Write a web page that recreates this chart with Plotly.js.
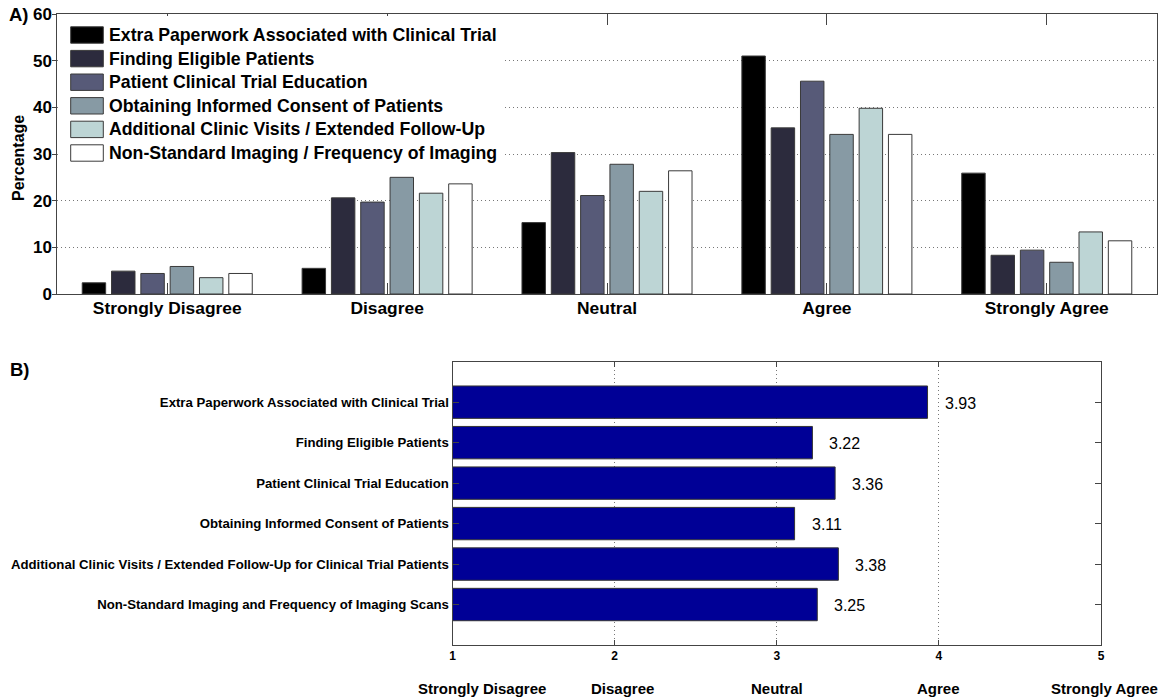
<!DOCTYPE html>
<html>
<head>
<meta charset="utf-8">
<script src="https://cdn.plot.ly/plotly-3.0.1.min.js"></script>
<style>
html,body{margin:0;padding:0;background:#fff;}
#chart{width:1160px;height:698px;}
</style>
</head>
<body>
<div id="chart"></div>
<script>
// ---------- DATA ----------
const categories = ['Strongly Disagree', 'Disagree', 'Neutral', 'Agree', 'Strongly Agree'];
const seriesNames = [
  'Extra Paperwork Associated with Clinical Trial',
  'Finding Eligible Patients',
  'Patient Clinical Trial Education',
  'Obtaining Informed Consent of Patients',
  'Additional Clinic Visits / Extended Follow-Up',
  'Non-Standard Imaging / Frequency of Imaging'
];
const extraPaperwork   = [2.4, 5.5, 15.3, 51.0, 25.9];
const findingEligible  = [4.9, 20.6, 30.3, 35.6, 8.3];
const patientEducation = [4.4, 19.7, 21.1, 45.6, 9.4];
const informedConsent  = [5.9, 25.0, 27.8, 34.2, 6.8];
const clinicVisits     = [3.5, 21.6, 22.0, 39.8, 13.3];
const imagingFrequency = [4.4, 23.6, 26.4, 34.2, 11.4];
const seriesValues = [extraPaperwork, findingEligible, patientEducation, informedConsent, clinicVisits, imagingFrequency];

const barriers = [
  'Extra Paperwork Associated with Clinical Trial',
  'Finding Eligible Patients',
  'Patient Clinical Trial Education',
  'Obtaining Informed Consent of Patients',
  'Additional Clinic Visits / Extended Follow-Up for Clinical Trial Patients',
  'Non-Standard Imaging and Frequency of Imaging Scans'
];
const meanScores = [3.93, 3.22, 3.36, 3.11, 3.38, 3.25];
const scaleTicks = [1, 2, 3, 4, 5];
const scaleLabels = ['Strongly Disagree', 'Disagree', 'Neutral', 'Agree', 'Strongly Agree'];

// ---------- STYLE ----------
const seriesColors = ['#000000', '#2c2b3d', '#575a78', '#879aa4', '#bdd5d5', '#ffffff'];
const FONT = 'Liberation Sans, Arial, sans-serif';
const NARROW = 'Liberation Sans Narrow, Arial Narrow, Liberation Sans, sans-serif';
const W = 1160, H = 698;
const px = v => v / W;
const py = v => 1 - v / H;
const axisCol = '#444444';
const gridDash = '1px,3px';

// bottom x-axis pixel geometry (for placing scale labels in paper coords)
const X2_LEFT = 452.5, X2_RIGHT = 1101;
const scaleToPx = v => X2_LEFT + (v - 1) * (X2_RIGHT - X2_LEFT) / 4;
const scaleLabelPos = [1.18, 2.05, 3.0, 4.0, 5.02];

const traces = [];
seriesValues.forEach((vals, i) => {
  traces.push({
    type: 'bar', x: categories, y: vals, name: seriesNames[i],
    xaxis: 'x', yaxis: 'y',
    marker: {color: seriesColors[i], line: {color: '#3a3a3a', width: 1}},
    showlegend: false, hoverinfo: 'x+y'
  });
});
traces.push({
  type: 'bar', orientation: 'h', x: meanScores.map(v => v - 1), base: 1, y: barriers, width: 0.8,
  xaxis: 'x2', yaxis: 'y2',
  customdata: meanScores, hovertemplate: '%{customdata}<extra></extra>',
  marker: {color: '#000096', line: {color: '#333333', width: 1}},
  showlegend: false
});

const shapes = [];
const annotations = [];

// legend (custom): white background
shapes.push({type: 'rect', xref: 'paper', yref: 'paper', layer: 'above',
  x0: px(59), x1: px(504), y0: py(170), y1: py(16), fillcolor: '#ffffff', line: {width: 0}});
seriesNames.forEach((n, i) => {
  const cy = 35 + i * 23.6;
  shapes.push({type: 'rect', xref: 'paper', yref: 'paper', layer: 'above',
    x0: px(70.7), x1: px(103.3), y0: py(cy + 8.2), y1: py(cy - 8.2),
    fillcolor: seriesColors[i], line: {color: '#3a3a3a', width: 1}});
  annotations.push({xref: 'paper', yref: 'paper', x: px(107), y: py(cy), xanchor: 'left', yanchor: 'middle',
    text: n, showarrow: false, font: {family: FONT, size: 17.7, weight: 700, color: '#000'}});
});

// panel letters
annotations.push({xref: 'paper', yref: 'paper', x: px(7), y: py(15), xanchor: 'left', yanchor: 'middle',
  text: 'A)', showarrow: false, font: {family: FONT, size: 18.5, weight: 700, color: '#000'}});
annotations.push({xref: 'paper', yref: 'paper', x: px(8), y: py(369), xanchor: 'left', yanchor: 'middle',
  text: 'B)', showarrow: false, font: {family: FONT, size: 18.5, weight: 700, color: '#000'}});

// y title top
annotations.push({xref: 'paper', yref: 'paper', x: px(18), y: py(158), xanchor: 'center', yanchor: 'middle',
  text: 'Percentage', textangle: -90, showarrow: false, font: {family: FONT, size: 16, weight: 700, color: '#000'}});

// value labels bottom
meanScores.forEach((v, i) => {
  annotations.push({xref: 'x2', yref: 'y2', x: v, y: barriers[i], xanchor: 'left', yanchor: 'middle',
    xshift: 15, yshift: -1, text: v.toFixed(2), showarrow: false,
    font: {family: NARROW, size: 16, color: '#000'}});
});

// scale labels under bottom chart
scaleLabels.forEach((t, i) => {
  annotations.push({xref: 'paper', yref: 'paper', x: px(scaleToPx(scaleLabelPos[i])), y: py(688),
    xanchor: 'center', yanchor: 'middle',
    text: t, showarrow: false, font: {family: FONT, size: 15, weight: 700, color: '#000'}});
});

const layout = {
  width: W, height: H,
  margin: {l: 0, r: 0, t: 0, b: 0},
  paper_bgcolor: '#ffffff', plot_bgcolor: '#ffffff',
  barmode: 'group', bargap: 0.2, bargroupgap: 0.2,
  showlegend: false,
  font: {family: FONT, color: '#000'},
  xaxis: {
    domain: [px(57.3), px(1156.7)], anchor: 'y', type: 'category',
    categoryorder: 'array', categoryarray: categories,
    showline: true, linecolor: axisCol, linewidth: 1, mirror: 'ticks',
    ticks: 'inside', ticklen: 11, tickcolor: axisCol,
    showgrid: false, zeroline: false,
    tickfont: {family: FONT, size: 17.4, weight: 700, color: '#000'},
    ticklabelstandoff: -2,
    automargin: false
  },
  yaxis: {
    domain: [py(294), py(14)], anchor: 'x', range: [0, 60], dtick: 10,
    showline: true, linecolor: axisCol, linewidth: 1, mirror: true,
    ticks: 'outside', ticklen: 4, tickcolor: axisCol,
    showgrid: true, gridcolor: '#777777', griddash: gridDash, gridwidth: 1,
    zeroline: false,
    tickfont: {family: FONT, size: 17, weight: 700, color: '#000'},
    ticklabelstandoff: -3,
    automargin: false
  },
  yaxis3: {
    overlaying: 'y', anchor: 'x', side: 'right', range: [0, 60], dtick: 10,
    showline: false, showgrid: false, zeroline: false, showticklabels: false,
    ticks: 'inside', ticklen: 10, tickcolor: axisCol
  },
  xaxis2: {
    domain: [px(X2_LEFT), px(X2_RIGHT)], anchor: 'y2', range: [1, 5],
    tickvals: scaleTicks, ticktext: scaleTicks.map(String),
    showline: true, linecolor: axisCol, linewidth: 1, mirror: 'ticks',
    ticks: 'inside', ticklen: 5, tickcolor: axisCol,
    showgrid: true, gridcolor: '#777777', griddash: gridDash, gridwidth: 1,
    zeroline: false,
    tickfont: {family: FONT, size: 12, weight: 700, color: '#000'},
    automargin: false
  },
  yaxis2: {
    domain: [py(645), py(361.7)], anchor: 'x2', type: 'category',
    categoryorder: 'array', categoryarray: barriers, range: [6, -1],
    showline: true, linecolor: axisCol, linewidth: 1, mirror: 'ticks',
    ticks: 'inside', ticklen: 6, tickcolor: axisCol,
    showgrid: false, zeroline: false,
    tickfont: {family: FONT, size: 13.2, weight: 700, color: '#000'},
    automargin: false
  },
  shapes: shapes,
  annotations: annotations
};

Plotly.newPlot('chart', traces, layout, {displayModeBar: false, staticPlot: true});
</script>
</body>
</html>
